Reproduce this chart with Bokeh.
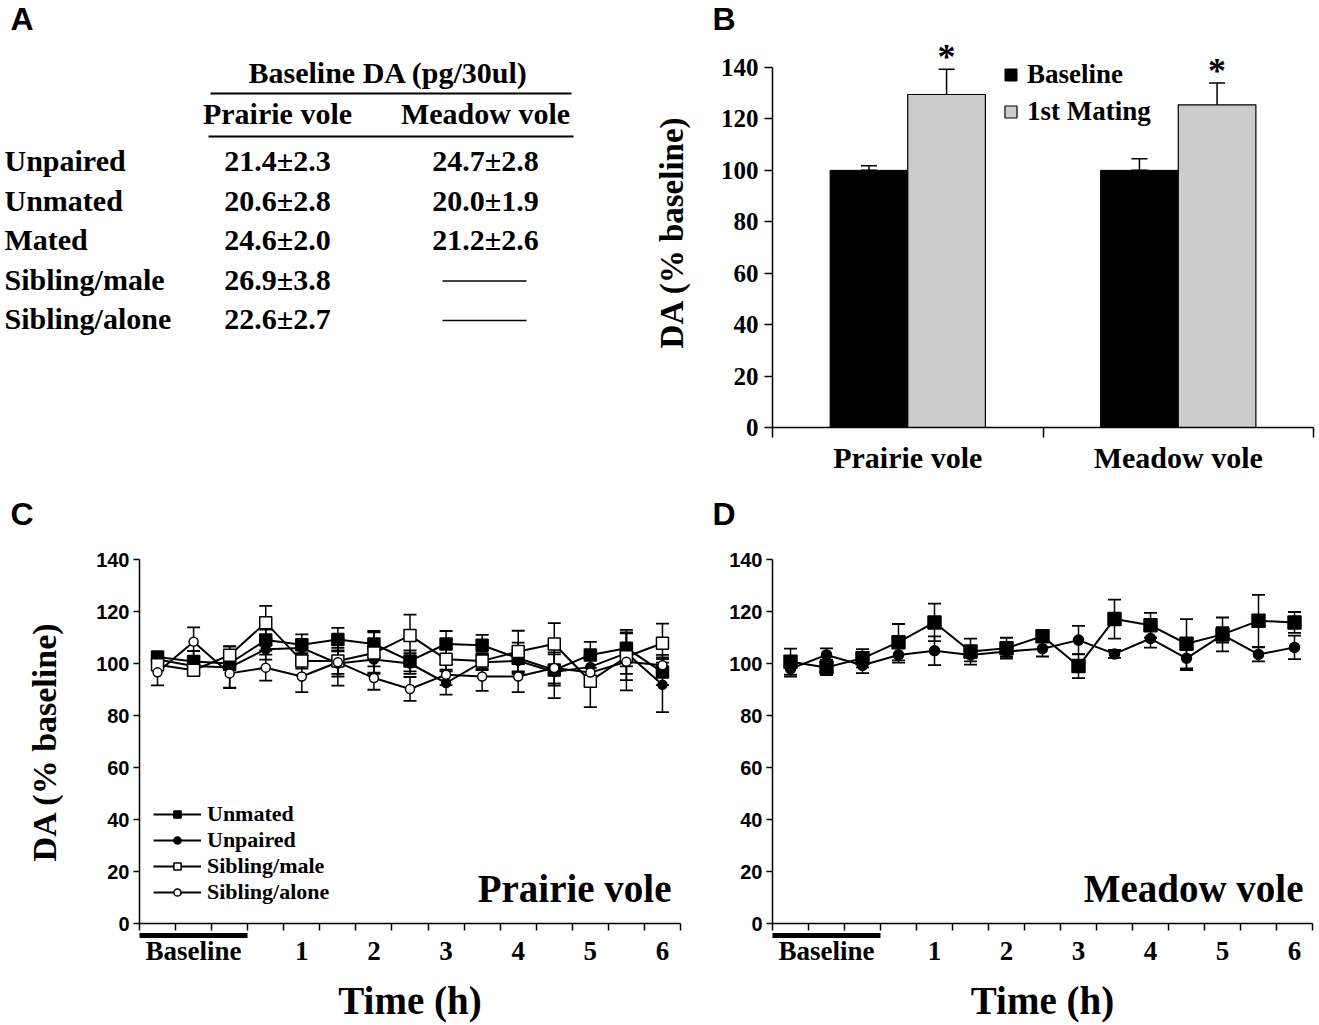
from bokeh.plotting import figure
from bokeh.models import (Range1d, FixedTicker, Whisker, ColumnDataSource, TeeHead,
                          Legend, LegendItem, LinearAxis, CustomJSTickFormatter)
from bokeh.layouts import column, row
from bokeh.embed import file_html
from bokeh.resources import INLINE
from bokeh.core.properties import value

SERIF = "Liberation Serif"
SANS = "Liberation Sans"

# ---------------- Panel letters ----------------
panel_letters_top = ["A", "B"]
panel_letters_bottom = ["C", "D"]

# ---------------- Panel A data (table) ----------------
table_title = "Baseline DA (pg/30ul)"
table_species = ["Prairie vole", "Meadow vole"]
table_groups = ["Unpaired", "Unmated", "Mated", "Sibling/male", "Sibling/alone"]
prairie_baseline = ["21.4\u00b12.3", "20.6\u00b12.8", "24.6\u00b12.0", "26.9\u00b13.8", "22.6\u00b12.7"]
meadow_baseline = ["24.7\u00b12.8", "20.0\u00b11.9", "21.2\u00b12.6", None, None]

# ---------------- Panel B data ----------------
b_species = ["Prairie vole", "Meadow vole"]
b_baseline = [100.0, 100.0]
b_baseline_err = [1.8, 4.5]
b_mating = [129.5, 125.5]
b_mating_err = [9.8, 8.5]
b_ticks = [0, 20, 40, 60, 80, 100, 120, 140]

# ---------------- Panels C / D data ----------------
samples = list(range(1, 16))
baseline_samples = [1, 2, 3]
hour_samples = [5, 7, 9, 11, 13, 15]
hour_labels = ["1", "2", "3", "4", "5", "6"]

c_unmated = [102.5, 100.8, 100.0, 109.0, 107.2, 109.2, 107.5, 101.0, 107.5, 107.0, 102.0, 97.5, 103.3, 105.9, 96.7]
c_unmated_err = [2.0, 4.0, 2.5, 4.0, 4.0, 4.5, 5.0, 4.0, 5.0, 4.0, 6.0, 6.0, 5.0, 7.0, 5.0]
c_unpaired = [101.5, 99.0, 98.5, 105.5, 106.0, 100.0, 101.5, 100.0, 92.5, 100.5, 101.0, 96.7, 98.7, 104.0, 91.8]
c_unpaired_err = [2.0, 3.0, 8.0, 4.0, 3.0, 5.0, 5.0, 4.0, 4.5, 3.0, 4.0, 10.0, 4.0, 8.0, 10.5]
c_sib_male = [99.5, 97.4, 103.2, 115.7, 101.0, 101.0, 104.0, 110.8, 101.6, 101.0, 104.6, 107.5, 93.2, 102.6, 107.8]
c_sib_male_err = [2.0, 2.0, 3.5, 6.5, 3.0, 5.0, 8.0, 8.0, 4.0, 3.0, 8.0, 8.0, 10.0, 9.0, 7.5]
c_sib_alone = [96.6, 108.4, 96.2, 98.4, 95.0, 100.5, 94.4, 90.2, 95.7, 95.0, 95.0, 98.3, 96.5, 100.7, 99.3]
c_sib_alone_err = [5.0, 5.5, 5.5, 5.0, 6.0, 9.0, 4.5, 4.6, 4.0, 5.5, 6.0, 6.0, 5.0, 11.0, 4.0]

d_unmated = [100.7, 98.5, 102.0, 108.2, 115.8, 104.6, 105.9, 110.5, 99.0, 117.1, 114.7, 107.6, 111.2, 116.4, 115.8]
d_unmated_err = [5.0, 3.0, 3.5, 7.0, 7.2, 5.0, 4.0, 2.0, 4.6, 7.5, 4.8, 9.5, 6.5, 10.0, 4.0]
d_unpaired = [98.0, 103.3, 99.3, 103.3, 104.9, 103.3, 104.6, 105.7, 109.0, 103.7, 109.6, 102.0, 111.0, 103.5, 106.2]
d_unpaired_err = [3.0, 2.5, 3.0, 3.0, 5.5, 2.5, 2.0, 3.0, 5.5, 1.5, 3.5, 4.5, 3.0, 2.7, 4.5]

y_ticks = [0, 20, 40, 60, 80, 100, 120, 140]

# ---------------- layout constants (pixels) ----------------
TOTAL_W = 1315
LET1_H = 36
ROW1_H = 490 - LET1_H
LET2_H = 50
ROW2_H = 485
B_LEFT, B_RIGHT, B_TOP, B_BOTTOM = 132, 2, 0, 63
WA = 640
WB = TOTAL_W - WA
WC = 702
WD = TOTAL_W - WC
CD_TOP, CD_BOTTOM = 19, 102
LETTER_SIZE = "32px"


def letter_strip(height, letters, xs, y):
    f = figure(width=TOTAL_W, height=height, x_range=Range1d(0, TOTAL_W), y_range=Range1d(height, 0),
               x_axis_type=None, y_axis_type=None, toolbar_location=None, title=None,
               output_backend="svg", min_border=0)
    f.grid.visible = False
    f.outline_line_color = None
    f.text(x=xs, y=[y] * len(letters), text=letters, text_font=value(SANS), text_font_style="bold",
           text_font_size=LETTER_SIZE, text_align="left", text_baseline="middle", text_color="black")
    return f


let1 = letter_strip(LET1_H, panel_letters_top, [10, 712], LET1_H / 2.0)
let2 = letter_strip(LET2_H, panel_letters_bottom, [10, 712], 23)

# ================= Panel A =================
a_top = LET1_H + B_TOP
a_bottom = LET1_H + ROW1_H - B_BOTTOM
pa = figure(width=WA, height=ROW1_H, x_range=Range1d(0, WA), y_range=Range1d(a_bottom, a_top),
            x_axis_type=None, y_axis_type=None, toolbar_location=None, title=None,
            output_backend="svg", min_border_left=0, min_border_right=0,
            min_border_top=B_TOP, min_border_bottom=B_BOTTOM)
pa.grid.visible = False
pa.outline_line_color = None

TXT = dict(text_font=value(SERIF), text_font_style="bold", text_color="black", text_baseline="middle")
pa.text(x=[388], y=[72], text=[table_title], text_font_size="30px", text_align="center", **TXT)
pa.segment(x0=[210], y0=[93], x1=[571], y1=[93], line_width=2, line_color="black")
col_x = [277, 485]
pa.text(x=col_x, y=[113, 113], text=table_species, text_font_size="30px", text_align="center", **TXT)
pa.segment(x0=[208], y0=[136], x1=[573], y1=[136], line_width=2, line_color="black")

row_y = [160 + 39.5 * i for i in range(len(table_groups))]
pa.text(x=[4] * len(table_groups), y=row_y, text=table_groups, text_font_size="30px",
        text_align="left", **TXT)
pa.text(x=[col_x[0]] * len(prairie_baseline), y=row_y, text=prairie_baseline, text_font_size="30px",
        text_align="center", **TXT)
mv_y = [yy for yy, v in zip(row_y, meadow_baseline) if v is not None]
mv_t = [v for v in meadow_baseline if v is not None]
pa.text(x=[col_x[1]] * len(mv_t), y=mv_y, text=mv_t, text_font_size="30px", text_align="center", **TXT)
dash_y = [yy + 2 for yy, v in zip(row_y, meadow_baseline) if v is None]
pa.segment(x0=[col_x[1] - 43] * len(dash_y), y0=dash_y, x1=[col_x[1] + 41] * len(dash_y), y1=dash_y,
           line_width=1.6, line_color="black")

# ================= Panel B =================
b_ppu = 360 / 140.0                       # 0..140 spans page y 427..67
b_frame_top = LET1_H + B_TOP
b_ymax = 140 + (67 - b_frame_top) / b_ppu
pb = figure(width=WB, height=ROW1_H, x_range=Range1d(0.5, 2.5), y_range=Range1d(0, b_ymax),
            toolbar_location=None, output_backend="svg", title=None,
            min_border_left=B_LEFT, min_border_right=B_RIGHT, min_border_top=B_TOP,
            min_border_bottom=B_BOTTOM)
pb.grid.visible = False
pb.outline_line_color = None
centers = [1, 2]
bw = 0.287
xb = [c - bw / 2 for c in centers]
xm = [c + bw / 2 for c in centers]
r_base = pb.vbar(x=xb, top=b_baseline, width=bw, fill_color="black", line_color="black", line_width=1)
r_mat = pb.vbar(x=xm, top=b_mating, width=bw, fill_color="#cccccc", line_color="black", line_width=1.2)

src_be = ColumnDataSource(dict(base=xb, lower=b_baseline,
                               upper=[v + e for v, e in zip(b_baseline, b_baseline_err)]))
src_me = ColumnDataSource(dict(base=xm, lower=[v - e for v, e in zip(b_mating, b_mating_err)],
                               upper=[v + e for v, e in zip(b_mating, b_mating_err)]))
for s in (src_be, src_me):
    pb.add_layout(Whisker(source=s, base="base", lower="lower", upper="upper", dimension="height",
                          line_width=1.5, line_color="black",
                          upper_head=TeeHead(size=16, line_width=1.5, line_color="black"),
                          lower_head=TeeHead(size=16, line_width=1.5, line_color="black")))
pb.text(x=xm, y=[v + e for v, e in zip(b_mating, b_mating_err)], text=["*", "*"],
        text_font=value(SERIF), text_font_style="bold", text_font_size="36px", text_color="black",
        text_align="center", text_baseline="top", y_offset=-32)

pb.yaxis.ticker = FixedTicker(ticks=b_ticks)
pb.yaxis.bounds = (0, 140)
pb.yaxis.major_tick_out = 8
pb.yaxis.major_tick_in = 0
pb.yaxis.minor_tick_out = 0
pb.yaxis.major_label_text_font = SERIF
pb.yaxis.major_label_text_font_style = "bold"
pb.yaxis.major_label_text_font_size = "25px"
pb.yaxis.major_label_standoff = 6
pb.yaxis.axis_label = "DA (% baseline)"
pb.yaxis.axis_label_text_font = SERIF
pb.yaxis.axis_label_text_font_style = "bold"
pb.yaxis.axis_label_text_font_size = "33px"
pb.yaxis.axis_label_standoff = 28
pb.xaxis.ticker = FixedTicker(ticks=centers, minor_ticks=[0.5, 1.5, 2.5])
pb.xaxis.major_label_overrides = {c: s for c, s in zip(centers, b_species)}
pb.xaxis.major_tick_out = 0
pb.xaxis.major_tick_in = 0
pb.xaxis.minor_tick_out = 10
pb.xaxis.minor_tick_in = 0
pb.xaxis.major_label_text_font = SERIF
pb.xaxis.major_label_text_font_style = "bold"
pb.xaxis.major_label_text_font_size = "30px"
pb.xaxis.major_label_standoff = 3
for ax in (pb.xaxis, pb.yaxis):
    ax.axis_line_width = 1.5
    ax.major_tick_line_width = 1.5
    ax.minor_tick_line_width = 1.5
    ax.major_label_text_color = "black"
    ax.axis_label_text_color = "black"

legB = Legend(items=[LegendItem(label="Baseline", renderers=[r_base]),
                     LegendItem(label="1st Mating", renderers=[r_mat])],
              location=(231, 300), glyph_width=15, glyph_height=15, label_standoff=9,
              spacing=6, padding=0, margin=0, border_line_color=None, background_fill_alpha=0,
              label_text_font=SERIF, label_text_font_style="bold", label_text_font_size="27px",
              label_text_color="black")
pb.add_layout(legB)


# ================= Panels C / D =================
def time_panel(width, left, right, name, series, with_ylabel, legend_names=None):
    p = figure(width=width, height=ROW2_H, x_range=Range1d(0.5, 15.5), y_range=Range1d(0, 140),
               toolbar_location=None, output_backend="svg", title=None,
               min_border_left=left, min_border_right=right, min_border_top=CD_TOP,
               min_border_bottom=CD_BOTTOM)
    p.grid.visible = False
    p.outline_line_color = None
    for vals, errs, marker, size, fill in series:
        src = ColumnDataSource(dict(base=samples, lower=[v - e for v, e in zip(vals, errs)],
                                    upper=[v + e for v, e in zip(vals, errs)]))
        p.add_layout(Whisker(source=src, base="base", lower="lower", upper="upper", dimension="height",
                             line_width=1.5, line_color="black", level="underlay",
                             upper_head=TeeHead(size=13, line_width=1.8, line_color="black"),
                             lower_head=TeeHead(size=13, line_width=1.8, line_color="black")))
    rends = []
    for vals, errs, marker, size, fill in series:
        rends.append(p.line(samples, vals, line_color="black", line_width=2))
    srends = []
    for vals, errs, marker, size, fill in series:
        srends.append(p.scatter(samples, vals, marker=marker, size=size, fill_color=fill,
                                line_color="black", line_width=1.5))
    if legend_names:
        items = [LegendItem(label=nm, renderers=[rl, rs])
                 for nm, rl, rs in zip(legend_names, rends, srends)]
        leg = Legend(items=items, location=(14, 18), glyph_width=48, glyph_height=18,
                     label_standoff=6, spacing=0, padding=0, margin=0, border_line_color=None,
                     background_fill_alpha=0, label_text_font=SERIF, label_text_font_style="bold",
                     label_text_font_size="22px", label_height=18, label_text_color="black")
        p.add_layout(leg)
    p.text(x=[15.5], y=[13.5], text=[name], text_font=value(SERIF), text_font_style="bold",
           text_font_size="39px", text_align="right", text_baseline="middle", x_offset=-9,
           text_color="black")

    p.yaxis.ticker = FixedTicker(ticks=y_ticks)
    p.yaxis.major_tick_out = 6
    p.yaxis.major_tick_in = 0
    p.yaxis.minor_tick_out = 0
    p.yaxis.major_label_text_font = SANS
    p.yaxis.major_label_text_font_style = "bold"
    p.yaxis.major_label_text_font_size = "20px"
    p.yaxis.major_label_standoff = 4
    if with_ylabel:
        p.yaxis.axis_label = "DA (% baseline)"
        p.yaxis.axis_label_text_font = SERIF
        p.yaxis.axis_label_text_font_style = "bold"
        p.yaxis.axis_label_text_font_size = "34px"
        p.yaxis.axis_label_standoff = 30
    p.yaxis.axis_line_width = 1.5
    p.yaxis.major_tick_line_width = 1.5
    p.yaxis.major_label_text_color = "black"
    p.yaxis.axis_label_text_color = "black"

    # axis 1: axis line with tick marks between samples (labels blank)
    bounds_ticks = [s - 0.5 for s in samples] + [samples[-1] + 0.5]
    ax1 = p.xaxis[0]
    ax1.ticker = FixedTicker(ticks=bounds_ticks, minor_ticks=bounds_ticks)
    ax1.formatter = CustomJSTickFormatter(code="return ''")
    ax1.major_tick_out = 12          # invisible, only reserves room above the baseline bar
    ax1.major_tick_in = 0
    ax1.major_tick_line_color = None
    ax1.minor_tick_out = 7
    ax1.minor_tick_in = 0
    ax1.minor_tick_line_width = 1.5
    ax1.minor_tick_line_color = "black"
    ax1.major_label_standoff = 0
    ax1.axis_line_width = 1.5
    # axis 2: thick bar under the baseline samples
    ax2 = LinearAxis(ticker=FixedTicker(ticks=[], minor_ticks=[]),
                     bounds=(min(baseline_samples) - 0.5, max(baseline_samples) + 0.5),
                     axis_line_width=5, axis_line_color="black", major_tick_out=0, major_tick_in=0,
                     minor_tick_out=0, minor_tick_in=0, major_label_standoff=0)
    p.add_layout(ax2, "below")
    # axis 3: the tick labels and axis title
    ov = {2: "Baseline"}
    ov.update({s: l for s, l in zip(hour_samples, hour_labels)})
    ax3 = LinearAxis(ticker=FixedTicker(ticks=[2] + hour_samples), major_label_overrides=ov,
                     axis_line_color=None, major_tick_out=0, major_tick_in=0, minor_tick_out=0,
                     minor_tick_in=0, major_tick_line_color=None, minor_tick_line_color=None,
                     major_label_text_font=SERIF, major_label_text_font_style="bold",
                     major_label_text_font_size="27px", major_label_standoff=0,
                     major_label_text_color="black",
                     axis_label="Time (h)", axis_label_text_font=SERIF,
                     axis_label_text_font_style="bold", axis_label_text_font_size="39px",
                     axis_label_standoff=10, axis_label_text_color="black")
    p.add_layout(ax3, "below")
    return p


c_series = [
    (c_unmated, c_unmated_err, "square", 12, "black"),
    (c_unpaired, c_unpaired_err, "circle", 9, "black"),
    (c_sib_male, c_sib_male_err, "square", 12, "white"),
    (c_sib_alone, c_sib_alone_err, "circle", 9, "white"),
]
d_series = [
    (d_unpaired, d_unpaired_err, "circle", 10, "black"),
    (d_unmated, d_unmated_err, "square", 13, "black"),
]
pc = time_panel(WC, 139, 22, "Prairie vole", c_series, True,
                legend_names=["Unmated", "Unpaired", "Sibling/male", "Sibling/alone"])
pd_ = time_panel(WD, 70, 3, "Meadow vole", d_series, False)

layout = column(let1, row(pa, pb), let2, row(pc, pd_))
open("out.html", "w").write(file_html(layout, INLINE))
